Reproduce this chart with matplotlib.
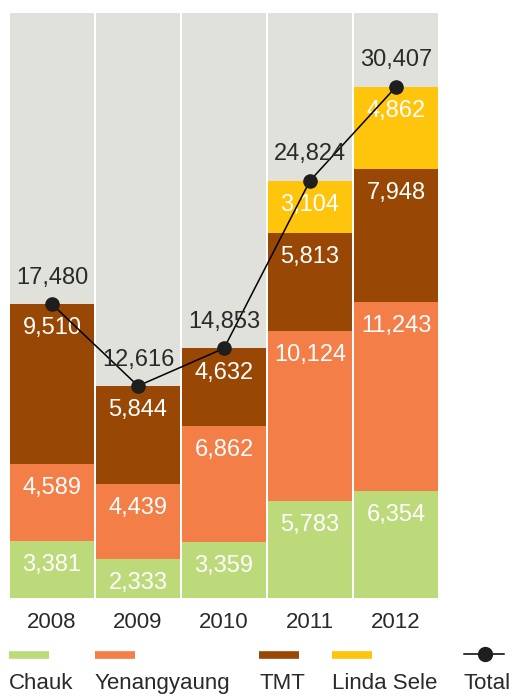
import matplotlib.pyplot as plt
from matplotlib.lines import Line2D

years = ["2008", "2009", "2010", "2011", "2012"]
chauk = [3381, 2333, 3359, 5783, 6354]
yenangyaung = [4589, 4439, 6862, 10124, 11243]
tmt = [9510, 5844, 4632, 5813, 7948]
linda_sele = [0, 0, 0, 3104, 4862]
totals = [17480, 12616, 14853, 24824, 30407]
series_names = ["Chauk", "Yenangyaung", "TMT", "Linda Sele"]

colors = ["#BDDA7A", "#F47E47", "#984705", "#FFC50D"]
grey = "#E1E1DC"
dark = "#2A2A2A"

plt.rcParams["font.family"] = ["Liberation Sans", "DejaVu Sans"]

fig = plt.figure(figsize=(5.14, 6.96), dpi=100)
ax = fig.add_axes([9 / 514, 98 / 696, 430 / 514, 585 / 696])
ymax = 34800
ax.set_xlim(-0.5, 4.5)
ax.set_ylim(0, ymax)
w = 84 / 86
x = range(len(years))

ax.bar(x, [ymax] * len(years), width=w, color=grey, zorder=1)
bottom = [0] * len(years)
for vals, col in zip([chauk, yenangyaung, tmt, linda_sele], colors):
    ax.bar(x, vals, width=w, bottom=bottom, color=col, zorder=2)
    for i, v in enumerate(vals):
        if v > 0:
            ax.annotate(f"{v:,}", (i, bottom[i] + v), xytext=(0, -17.5),
                        textcoords="offset points", ha="center", va="center",
                        color="white", fontsize=17, zorder=3)
    bottom = [b + v for b, v in zip(bottom, vals)]

ax.plot(x, totals, color="black", lw=1.1, marker="o", ms=9.5,
        mfc="#1E1E1E", mec="#1E1E1E", zorder=4)
for i, t in enumerate(totals):
    ax.annotate(f"{t:,}", (i, t), xytext=(0, 19), textcoords="offset points",
                ha="center", va="center", color=dark, fontsize=17, zorder=5)

ax.set_xticks(list(x))
ax.set_xticklabels(years, fontsize=16, color=dark)
ax.tick_params(axis="x", length=0, pad=10)
ax.set_yticks([])
for s in ax.spines.values():
    s.set_visible(False)

# legend drawn by hand along the bottom
leg_x = [9, 95, 259, 332]
for lx, name, col in zip(leg_x, series_names, colors):
    fig.add_artist(Line2D([lx / 514, (lx + 40) / 514], [1 - 655 / 696] * 2,
                          color=col, lw=5.5, solid_capstyle="butt"))
    fig.text(lx / 514, 1 - 689 / 696, name, fontsize=16, color=dark,
             ha="left", va="baseline")
fig.add_artist(Line2D([464 / 514, 504 / 514], [1 - 654 / 696] * 2,
                      color="black", lw=1.1))
fig.add_artist(Line2D([485 / 514], [1 - 654 / 696], marker="o", ms=10,
                      color="#1E1E1E"))
fig.text(464 / 514, 1 - 689 / 696, "Total", fontsize=16, color=dark,
         ha="left", va="baseline")

fig.savefig("out.png", dpi=100)
